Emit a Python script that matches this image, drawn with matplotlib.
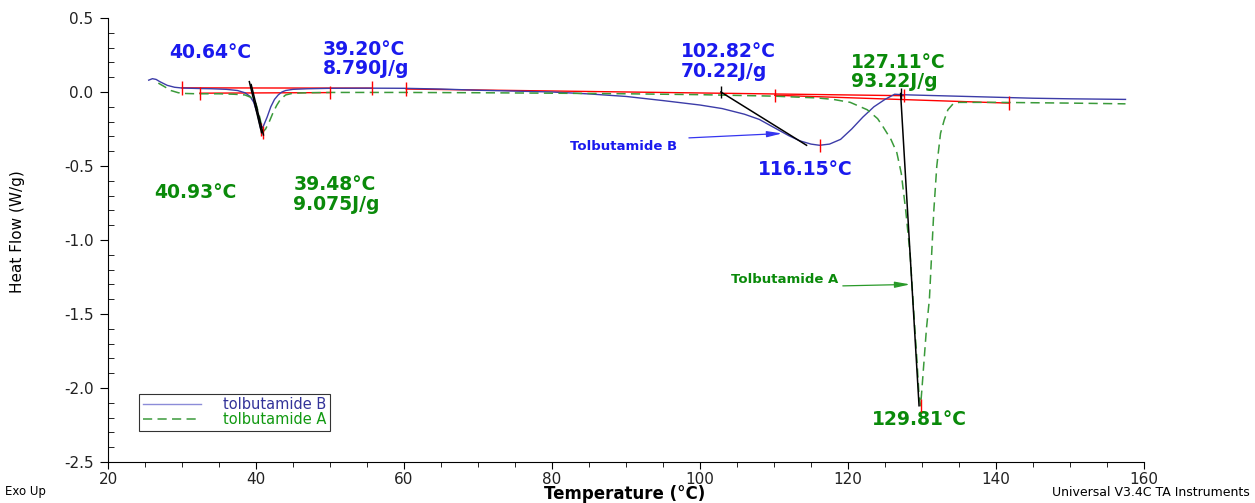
import matplotlib
matplotlib.use("Agg")
import matplotlib.pyplot as plt
from matplotlib.ticker import MultipleLocator, FormatStrFormatter
import numpy as np

plt.rcParams["font.family"] = ["DejaVu Sans"]
plt.rcParams["axes.unicode_minus"] = False

# ---- DSC traces (temperature in degC, heat flow in W/g) ----
temp_B = [25.5, 26.0, 26.5, 27.0, 28.0, 29.0, 30.0, 32.0, 34.0, 36.0, 37.5, 38.5,
          39.2, 39.7, 40.2, 40.64, 41.0, 41.5, 42.0, 42.5, 43.0, 43.5, 44.0, 45.0,
          47.0, 50.0, 55.0, 60.0, 65.0, 70.0, 75.0, 80.0, 85.0, 90.0, 95.0, 100.0,
          103.0, 106.0, 108.0, 110.0, 112.0, 113.5, 115.0, 116.15, 117.5, 119.0,
          120.5, 122.0, 123.5, 125.0, 126.3, 127.2, 128.5, 130.0, 136.0, 145.0,
          150.0, 157.5]
hf_B = [0.080, 0.090, 0.085, 0.070, 0.045, 0.032, 0.027, 0.024, 0.022, 0.018, 0.010,
        -0.005, -0.030, -0.070, -0.150, -0.250, -0.230, -0.170, -0.100, -0.050,
        -0.020, 0.000, 0.010, 0.018, 0.022, 0.025, 0.026, 0.025, 0.020, 0.012,
        0.006, 0.000, -0.013, -0.030, -0.058, -0.088, -0.112, -0.150, -0.185,
        -0.240, -0.295, -0.330, -0.352, -0.360, -0.352, -0.320, -0.250, -0.170,
        -0.100, -0.050, -0.015, -0.018, -0.020, -0.022, -0.030, -0.042, -0.046,
        -0.050]

temp_A = [26.8, 27.5, 28.5, 29.5, 30.5, 32.0, 35.0, 37.0, 38.5, 39.5, 40.0, 40.5,
          40.93, 41.3, 41.8, 42.3, 42.8, 43.3, 44.0, 45.0, 47.0, 50.0, 60.0, 70.0,
          80.0, 90.0, 100.0, 110.0, 115.8, 118.0, 120.3, 122.6, 124.0, 124.8, 125.8,
          126.6, 127.2, 127.8, 128.4, 128.9, 129.3, 129.6, 129.81, 130.0, 130.3,
          130.6, 131.0, 131.3, 131.6, 132.0, 132.5, 133.0, 133.5, 134.2, 135.0,
          140.0, 150.0, 157.5]
hf_A = [0.060, 0.040, 0.010, -0.005, -0.010, -0.012, -0.012, -0.015, -0.020, -0.040,
        -0.080, -0.170, -0.270, -0.250, -0.200, -0.140, -0.090, -0.050, -0.020,
        -0.008, -0.005, -0.003, -0.003, -0.005, -0.008, -0.012, -0.018, -0.028,
        -0.040, -0.050, -0.070, -0.120, -0.180, -0.240, -0.320, -0.410, -0.550,
        -0.800, -1.100, -1.500, -1.800, -2.050, -2.120, -2.000, -1.800, -1.600,
        -1.400, -1.100, -0.800, -0.500, -0.280, -0.190, -0.120, -0.080, -0.070,
        -0.070, -0.075, -0.080]

# ---- peak analysis results ----
onset_B = [39.20, 102.82]
enthalpy_B = [8.790, 70.22]
peak_B = [40.64, 116.15]
peak_B_HF = [-0.255, -0.360]
onset_A = [39.48, 127.11]
enthalpy_A = [9.075, 93.22]
peak_A = [40.93, 129.81]
peak_A_HF = [-0.275, -2.120]

# integration baselines (T0, HF0, T1, HF1)
baselines = [
    (30.0, 0.028, 55.7, 0.026),
    (60.3, 0.020, 127.6, -0.025),
    (32.4, -0.008, 50.0, -0.004),
    (110.1, -0.022, 141.7, -0.075),
]
limit_T = [30.0, 55.7, 60.3, 127.6, 32.4, 50.0, 110.1, 141.7]
limit_HF = [0.028, 0.026, 0.020, -0.025, -0.008, -0.004, -0.022, -0.075]

# onset tangents (T0, HF0, T1, HF1)
tangents = [
    (39.10, 0.070, 40.75, -0.275),
    (39.35, 0.050, 41.00, -0.290),
    (102.82, 0.000, 114.40, -0.360),
    (127.11, -0.010, 129.60, -2.120),
]

BLUE_LINE = "#3c3ca8"
GREEN_LINE = "#3a9a3a"
BLUE_TXT = "#1a1aee"
GREEN_TXT = "#0a8a0a"

fig = plt.figure(figsize=(12.55, 5.03), dpi=100)
ax = fig.add_axes([108 / 1255, 41 / 503, 1036 / 1255, 444 / 503])

ax.plot(temp_B, hf_B, color=BLUE_LINE, lw=1.0, label="tolbutamide B", zorder=3)
ax.plot(temp_A, hf_A, color=GREEN_LINE, lw=1.1, ls=(0, (6, 3.5)),
        label="tolbutamide A", zorder=3)

for t0, h0, t1, h1 in baselines:
    ax.plot([t0, t1], [h0, h1], color="red", lw=1.0, zorder=2)
tick_h = 0.045
ax.vlines(limit_T, np.array(limit_HF) - tick_h, np.array(limit_HF) + tick_h,
          color="red", lw=1.0, zorder=4)
peak_T = peak_B + peak_A
peak_HF = np.array(peak_B_HF + peak_A_HF)
ax.vlines(peak_T, peak_HF - tick_h, peak_HF + tick_h, color="red", lw=1.0, zorder=4)

for t0, h0, t1, h1 in tangents:
    ax.plot([t0, t1], [h0, h1], color="black", lw=1.1, zorder=5)
ax.vlines([onset_B[1], onset_A[1]], [-0.04, -0.05], [0.04, 0.03],
          color="black", lw=1.0, zorder=5)

# ---- annotations ----
fs = 13.5
def lbl(x, y, s, color):
    ax.text(x, y, s, color=color, fontsize=fs, fontweight="bold", ha="center",
            va="center", multialignment="left", linespacing=1.05)

lbl(33.8, 0.264, f"{peak_B[0]:.2f}°C", BLUE_TXT)
lbl(54.9, 0.223, f"{onset_B[0]:.2f}°C\n{enthalpy_B[0]:.3f}J/g", BLUE_TXT)
lbl(31.8, -0.68, f"{peak_A[0]:.2f}°C", GREEN_TXT)
lbl(50.9, -0.695, f"{onset_A[0]:.2f}°C\n{enthalpy_A[0]:.3f}J/g", GREEN_TXT)
lbl(103.8, 0.206, f"{onset_B[1]:.2f}°C\n{enthalpy_B[1]:.2f}J/g", BLUE_TXT)
lbl(126.8, 0.135, f"{onset_A[1]:.2f}°C\n{enthalpy_A[1]:.2f}J/g", GREEN_TXT)
lbl(114.2, -0.527, f"{peak_B[1]:.2f}°C", BLUE_TXT)
lbl(129.6, -2.216, f"{peak_A[1]:.2f}°C", GREEN_TXT)

ax.annotate("", xy=(111.1, -0.28), xytext=(98.5, -0.31),
            arrowprops=dict(arrowstyle="-|>,head_length=0.9,head_width=0.18",
                            color="#3535f0", lw=0.9, shrinkA=0, shrinkB=0))
ax.text(89.7, -0.365, "Tolbutamide B", color=BLUE_TXT, fontsize=9.5,
        fontweight="bold", ha="center", va="center")
ax.annotate("", xy=(128.4, -1.30), xytext=(119.3, -1.31),
            arrowprops=dict(arrowstyle="-|>,head_length=0.9,head_width=0.18",
                            color="#2a9a2a", lw=0.9, shrinkA=0, shrinkB=0))
ax.text(111.5, -1.27, "Tolbutamide A", color=GREEN_TXT, fontsize=9.5,
        fontweight="bold", ha="center", va="center")

# ---- axes styling ----
ax.set_xlim(20, 160)
ax.set_ylim(-2.5, 0.5)
for s in ("top", "right"):
    ax.spines[s].set_visible(False)
ax.xaxis.set_major_locator(MultipleLocator(20))
ax.xaxis.set_minor_locator(MultipleLocator(5))
ax.yaxis.set_major_locator(MultipleLocator(0.5))
ax.yaxis.set_minor_locator(MultipleLocator(0.1))
ax.yaxis.set_major_formatter(FormatStrFormatter("%.1f"))
ax.tick_params(axis="x", which="major", direction="out", length=5, pad=2,
               labelsize=11, labelcolor="#222222")
ax.tick_params(axis="x", which="minor", direction="out", length=3.5)
ax.tick_params(axis="y", which="major", direction="out", length=6, pad=4.5,
               labelsize=11, labelcolor="#222222")
ax.tick_params(axis="y", which="minor", direction="in", length=4)

leg = ax.legend(loc="lower left", bbox_to_anchor=(0.03, 0.07), fontsize=10.5,
                frameon=True, fancybox=False, edgecolor="black",
                handlelength=4.0, handletextpad=1.5, labelspacing=0.0,
                borderpad=0.25, borderaxespad=0)
leg.get_frame().set_linewidth(0.8)
leg.get_lines()[0].set_color("#8c8cd8")
leg.get_texts()[0].set_color("#333399")
leg.get_texts()[1].set_color("#119911")

fig.text(18 / 1255, 1 - 232 / 503, "Heat Flow (W/g)", rotation=90,
         ha="center", va="center", fontsize=11)
fig.text(625 / 1255, 1 - 494 / 503, "Temperature (°C)", ha="center",
         va="center", fontsize=12, fontweight="bold")
fig.text(5 / 1255, 1 - 492 / 503, "Exo Up", ha="left", va="center", fontsize=8.5)
fig.text(1250 / 1255, 1 - 492 / 503, "Universal V3.4C TA Instruments",
         ha="right", va="center", fontsize=9)

fig.savefig("out.png", dpi=100)
